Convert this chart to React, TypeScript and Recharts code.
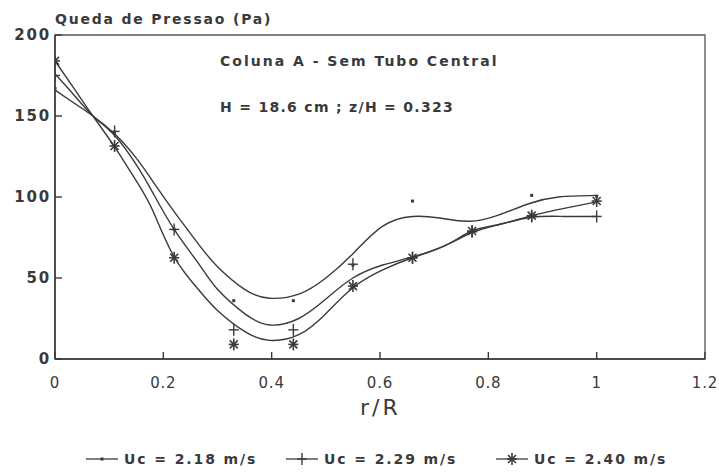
import {
  ComposedChart,
  Line,
  Scatter,
  XAxis,
  YAxis,
  ReferenceArea,
} from 'recharts';

// measured points (r/R, pressure drop in Pa)
const radii = [0, 0.11, 0.22, 0.33, 0.44, 0.55, 0.66, 0.77, 0.88, 1.0];
const points218 = [167, 140, 80, 36, 36, 58, 97.5, 79, 101, 100.5];
const points229 = [175, 140.5, 80, 18, 18, 58.5, 62.5, 78.5, 88, 88];
const points240 = [184, 131.5, 62.5, 9, 9, 45, 62.5, 79, 88.5, 97.5];

// fitted curves
const curveR218 = [0, 0.035, 0.07, 0.11, 0.15, 0.18, 0.22, 0.267, 0.3, 0.35, 0.396, 0.45, 0.5, 0.55, 0.605, 0.66, 0.71, 0.765, 0.82, 0.876, 0.93, 1.0];
const curve218 = [166, 158, 150, 139, 124, 110, 91, 70, 57, 43, 37.5, 40, 50, 65, 82, 88, 87, 85, 89, 96, 100, 101];
const curveR = [0, 0.035, 0.07, 0.11, 0.15, 0.18, 0.22, 0.267, 0.3, 0.35, 0.396, 0.45, 0.5, 0.55, 0.605, 0.66, 0.72, 0.77, 0.82, 0.88, 0.94, 1.0];
const curve229 = [176, 163, 150, 138, 120, 103, 80, 58, 43, 28, 21, 25, 37, 50, 58, 63, 70, 78, 83, 87.5, 88, 88];
const curve240 = [184, 167, 150, 131, 110, 92, 63, 42, 30, 17, 11.5, 15, 28, 44, 55, 62.5, 70, 79, 83, 88.5, 93, 97];

const xTicks = [0, 0.2, 0.4, 0.6, 0.8, 1, 1.2];
const yTicks = [0, 50, 100, 150, 200];

const seriesNames = ['Uc = 2.18 m/s', 'Uc = 2.29 m/s', 'Uc = 2.40 m/s'];

const INK = '#3a3a3a';
const FONT = '"DejaVu Sans", sans-serif';

const toRows = (xs: number[], ys: number[]) => xs.map((r, i) => ({ r, v: ys[i] }));

const DotMark = ({ cx, cy }: any) => (
  <rect x={cx - 1.5} y={cy - 1.5} width={3} height={3} fill={INK} />
);

const PlusMark = ({ cx, cy }: any) => (
  <g stroke={INK} strokeWidth={1.4}>
    <line x1={cx - 5} x2={cx + 5} y1={cy} y2={cy} />
    <line x1={cx} x2={cx} y1={cy - 6} y2={cy + 6} />
  </g>
);

const StarMark = ({ cx, cy }: any) => (
  <g stroke={INK} strokeWidth={1.6}>
    <line x1={cx - 5} x2={cx + 5} y1={cy} y2={cy} />
    <line x1={cx} x2={cx} y1={cy - 6} y2={cy + 6} />
    <line x1={cx - 4} x2={cx + 4} y1={cy - 4} y2={cy + 4} />
    <line x1={cx - 4} x2={cx + 4} y1={cy + 4} y2={cy - 4} />
  </g>
);

const XTick = ({ x, y, payload }: any) => (
  <g>
    <line x1={x} x2={x} y1={y} y2={y - 7} stroke={INK} strokeWidth={1.4} />
    <text x={Math.min(x, 705)} y={y + 29} textAnchor="middle" fill={INK} fontFamily={FONT} fontSize={15} letterSpacing={0.8}>
      {String(payload.value)}
    </text>
  </g>
);

const YTick = ({ x, y, payload }: any) => (
  <g>
    <line x1={x} x2={x + 7} y1={y} y2={y} stroke={INK} strokeWidth={1.4} />
    <text x={x - 4} y={y + 5} textAnchor="end" fill={INK} fontFamily={FONT} fontWeight="bold" fontSize={15} letterSpacing={1.8}>
      {payload.value}
    </text>
  </g>
);

const legendMarks = [DotMark, PlusMark, StarMark];
const legendLeft = [84, 284, 494];

export default function App() {
  const text = (extra: any) => ({
    position: 'absolute' as const,
    color: INK,
    fontFamily: FONT,
    fontWeight: 'bold' as const,
    whiteSpace: 'nowrap' as const,
    lineHeight: 1,
    ...extra,
  });

  return (
    <div style={{ position: 'absolute', left: 0, top: 0, width: 719, height: 473, background: '#fff' }}>
      <ComposedChart
        width={719}
        height={473}
        margin={{ top: 35, right: 14, left: 0, bottom: 74 }}
      >
        <XAxis
          type="number"
          dataKey="r"
          domain={[0, 1.2]}
          ticks={xTicks}
          tick={<XTick />}
          tickSize={0}
          tickMargin={0}
          height={40}
          stroke={INK}
          strokeWidth={1.5}
          allowDataOverflow
        />
        <YAxis
          type="number"
          dataKey="v"
          domain={[0, 200]}
          ticks={yTicks}
          tick={<YTick />}
          tickSize={0}
          tickMargin={0}
          width={55}
          stroke={INK}
          strokeWidth={1.5}
          allowDataOverflow
        />
        <ReferenceArea x1={0} x2={1.2} y1={0} y2={200} fill="none" stroke="#555" strokeWidth={1.3} />

        <Line data={toRows(curveR218, curve218)} dataKey="v" type="natural" stroke={INK} strokeWidth={1.4} dot={false} isAnimationActive={false} />
        <Line data={toRows(curveR, curve229)} dataKey="v" type="natural" stroke={INK} strokeWidth={1.4} dot={false} isAnimationActive={false} />
        <Line data={toRows(curveR, curve240)} dataKey="v" type="natural" stroke={INK} strokeWidth={1.4} dot={false} isAnimationActive={false} />

        <Scatter data={toRows(radii, points218)} dataKey="v" shape={<DotMark />} isAnimationActive={false} />
        <Scatter data={toRows(radii, points229)} dataKey="v" shape={<PlusMark />} isAnimationActive={false} />
        <Scatter data={toRows(radii, points240)} dataKey="v" shape={<StarMark />} isAnimationActive={false} />
      </ComposedChart>

      <div style={text({ left: 55, top: 12, fontSize: 14, letterSpacing: 1.8 })}>Queda de Pressao (Pa)</div>
      <div style={text({ left: 220, top: 54, fontSize: 14, letterSpacing: 2 })}>Coluna A - Sem Tubo Central</div>
      <div style={text({ left: 220, top: 100, fontSize: 14, letterSpacing: 1.3 })}>H = 18.6 cm ; z/H = 0.323</div>
      <div style={text({ left: 360, top: 397, fontSize: 22, fontWeight: 'normal', letterSpacing: 3 })}>r/R</div>

      {seriesNames.map((name, i) => {
        const Mark = legendMarks[i];
        return (
          <div key={name} style={{ position: 'absolute', left: legendLeft[i], top: 451, display: 'flex', alignItems: 'center' }}>
            <svg width={36} height={16}>
              <line x1={2} x2={34} y1={8} y2={8} stroke={INK} strokeWidth={1.3} />
              <Mark cx={18} cy={8} />
            </svg>
            <span style={{ color: INK, fontFamily: FONT, fontWeight: 'bold', fontSize: 14, letterSpacing: 1.9, marginLeft: 4, lineHeight: 1 }}>
              {name}
            </span>
          </div>
        );
      })}
    </div>
  );
}
